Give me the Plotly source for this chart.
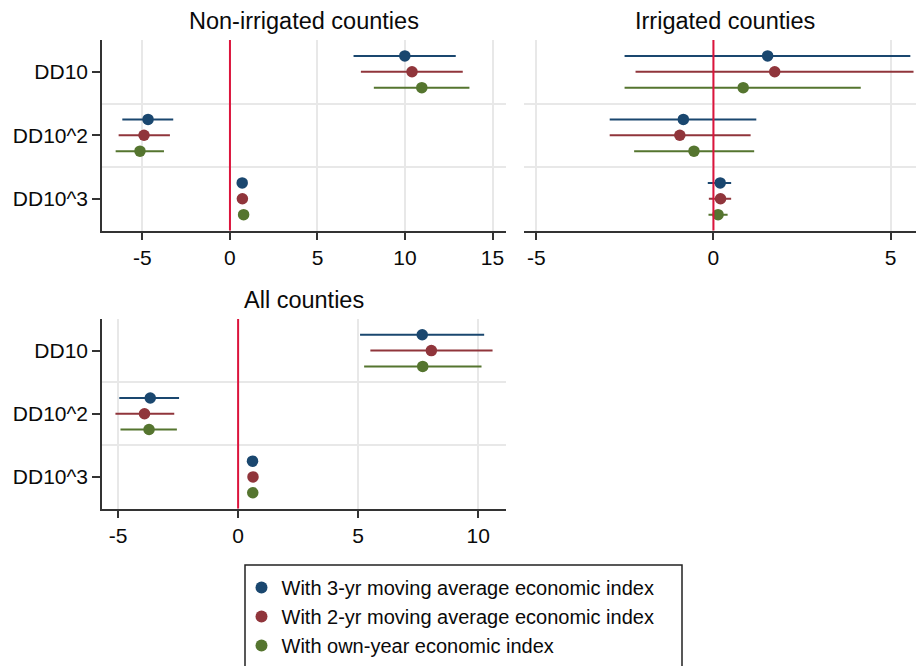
import plotly.graph_objects as go

W, H = 917, 666

terms = ["DD10", "DD10^2", "DD10^3"]
series_names = [
    "With 3-yr moving average economic index",
    "With 2-yr moving average economic index",
    "With own-year economic index",
]
colors = ["#1a476f", "#90353b", "#55752f"]

# Non-irrigated counties: estimates and CI bounds (per series, per term)
non_est = [[9.99, -4.68, 0.70], [10.40, -4.91, 0.71], [10.96, -5.14, 0.78]]
non_lo = [[7.06, -6.15, 0.60], [7.48, -6.36, 0.61], [8.22, -6.53, 0.68]]
non_hi = [[12.90, -3.24, 0.80], [13.30, -3.43, 0.81], [13.68, -3.77, 0.88]]

# Irrigated counties
irr_est = [[1.53, -0.85, 0.19], [1.73, -0.95, 0.20], [0.84, -0.55, 0.13]]
irr_lo = [[-2.51, -2.93, -0.16], [-2.20, -2.93, -0.13], [-2.51, -2.24, -0.14]]
irr_hi = [[5.56, 1.21, 0.50], [5.65, 1.05, 0.50], [4.16, 1.15, 0.40]]

# All counties
all_est = [[7.67, -3.66, 0.60], [8.05, -3.90, 0.62], [7.69, -3.71, 0.61]]
all_lo = [[5.08, -4.95, 0.52], [5.51, -5.11, 0.54], [5.25, -4.90, 0.53]]
all_hi = [[10.25, -2.46, 0.68], [10.60, -2.66, 0.70], [10.14, -2.55, 0.69]]

panel_titles = ["Non-irrigated counties", "Irrigated counties", "All counties"]
x_ticks = [[-5, 0, 5, 10, 15], [-5, 0, 5], [-5, 0, 5, 10]]
x_ranges = [[-7.31, 15.77], [-5.35, 5.72], [-5.67, 11.16]]

panels = [
    (non_est, non_lo, non_hi),
    (irr_est, irr_lo, irr_hi),
    (all_est, all_lo, all_hi),
]

# pixel boxes: (left, right, top, bottom)
boxes = [(102, 506, 40, 230.5), (524, 916, 40, 230.5), (102, 506, 319, 508.5)]
offsets = [-0.25, 0.0, 0.25]

FONT = "Liberation Sans, Arial, sans-serif"
TXT = "#0a0a0a"
fig = go.Figure()

for p, (est, lo, hi) in enumerate(panels):
    xa = "x" if p == 0 else f"x{p+1}"
    ya = "y" if p == 0 else f"y{p+1}"
    for s in range(3):
        ys = [i + 1 + offsets[s] for i in range(len(terms))]
        fig.add_trace(go.Scatter(
            x=est[s], y=ys, mode="markers", name=series_names[s],
            marker=dict(color=colors[s], size=11.5, symbol="circle"),
            error_x=dict(type="data", symmetric=False,
                         array=[h - e for h, e in zip(hi[s], est[s])],
                         arrayminus=[e - l for e, l in zip(est[s], lo[s])],
                         color=colors[s], thickness=2, width=0),
            xaxis=xa, yaxis=ya, showlegend=(p == 0),
        ))

layout = dict(
    width=W, height=H, margin=dict(l=0, r=0, t=0, b=0, autoexpand=False),
    paper_bgcolor="white", plot_bgcolor="white",
    font=dict(family=FONT, size=21, color=TXT),
    showlegend=True,
    legend=dict(x=241.5 / W, y=1 - 568 / H, xanchor="left", yanchor="top",
                bgcolor="rgba(0,0,0,0)", borderwidth=0, tracegroupgap=0,
                font=dict(size=20, family=FONT, color=TXT),
                itemsizing="constant"),
)

shapes = []
annotations = []
for p in range(3):
    l, r, t, b = boxes[p]
    xk = "xaxis" if p == 0 else f"xaxis{p+1}"
    yk = "yaxis" if p == 0 else f"yaxis{p+1}"
    xa = "x" if p == 0 else f"x{p+1}"
    ya = "y" if p == 0 else f"y{p+1}"
    layout[xk] = dict(
        domain=[l / W, r / W], anchor=ya, range=x_ranges[p],
        tickmode="array", tickvals=x_ticks[p], ticktext=[str(v) for v in x_ticks[p]],
        showgrid=True, gridcolor="#e8e8e8", gridwidth=1.5, zeroline=False,
        showline=True, linecolor="#333333", linewidth=1.5,
        ticks="outside", ticklen=8, tickwidth=1.5, tickcolor="#333333",
        tickfont=dict(size=21, family=FONT, color=TXT),
    )
    show_y = p != 1
    layout[yk] = dict(
        domain=[1 - b / H, 1 - t / H], anchor=xa, range=[3.5, 0.5],
        tickmode="array", tickvals=[1, 2, 3], ticktext=terms if show_y else ["", "", ""],
        showgrid=False, zeroline=False,
        showline=show_y, linecolor="#333333", linewidth=1.5,
        ticks="outside" if show_y else "", ticklen=8, tickwidth=1.5, tickcolor="#333333",
        tickfont=dict(size=21, family=FONT, color=TXT),
        minor=dict(tickmode="array", tickvals=[1.5, 2.5], showgrid=True,
                   gridcolor="#e8e8e8", gridwidth=1.5, ticks=""),
    )
    shapes.append(dict(type="line", xref=xa, yref=f"{ya} domain", x0=0, x1=0, y0=0, y1=1,
                       line=dict(color="#dc143c", width=2), layer="above"))
    annotations.append(dict(text=panel_titles[p], xref="paper", yref="paper",
                            x=((l + r) / 2 + (5 if p == 1 else 0)) / W,
                            y=1 - (t - 19) / H, xanchor="center", yanchor="middle",
                            showarrow=False, font=dict(size=23.5, family=FONT, color=TXT)))

# legend frame
shapes.append(dict(type="rect", xref="paper", yref="paper",
                   x0=245 / W, x1=682 / W, y0=1 - 700 / H, y1=1 - 565 / H,
                   line=dict(color="#222222", width=1.5), fillcolor="rgba(0,0,0,0)"))

layout["shapes"] = shapes
layout["annotations"] = annotations
fig.update_layout(**layout)

fig.write_html("out.html")
